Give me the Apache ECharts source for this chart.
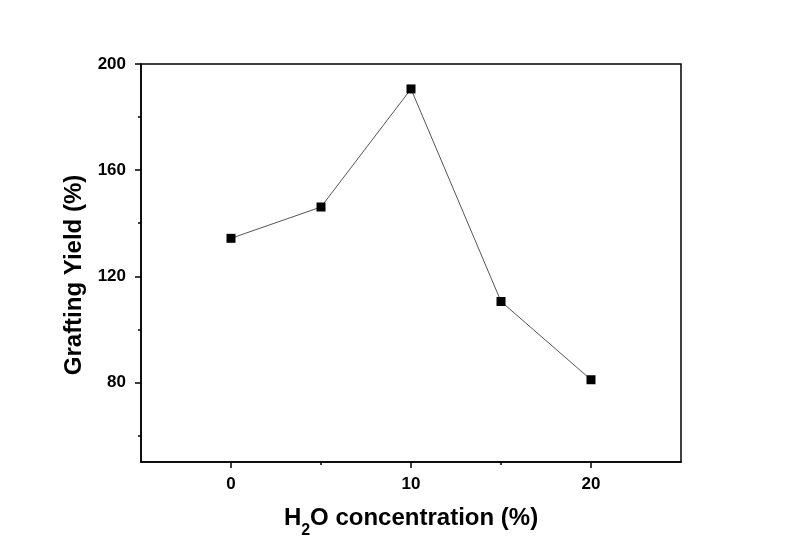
<!DOCTYPE html>
<html>
<head>
<meta charset="utf-8">
<script src="https://cdn.jsdelivr.net/npm/echarts@6/dist/echarts.min.js"></script>
<style>
html,body{margin:0;padding:0;background:#fff;}
#chart{width:790px;height:554px;}
</style>
</head>
<body>
<div id="chart"></div>
<script>
// Data
var h2oConcentration = [0, 5, 10, 15, 20];
var graftingYield = [134.3, 146.1, 190.6, 110.5, 81.0];

// Axis ticks / labels
var xMajorTicks = [0, 10, 20];
var xMinorTicks = [5, 15];
var yMajorTicks = [80, 120, 160, 200];
var yMinorTicks = [60, 100, 140, 180];

var FONT = 'Liberation Sans, Arial, sans-serif';

var chart = echarts.init(document.getElementById('chart'), null, {renderer: 'canvas'});

var seriesData = h2oConcentration.map(function (x, i) { return [x, graftingYield[i]]; });

var option = {
  backgroundColor: '#fff',
  animation: false,
  grid: {
    left: 141, top: 64, right: 109, bottom: 92,
    show: true, borderColor: '#000', borderWidth: 1.5, backgroundColor: 'transparent'
  },
  xAxis: [{
    type: 'value', min: -5, max: 25, position: 'bottom',
    axisLine: {show: true, onZero: false, lineStyle: {color: '#000', width: 1.5}},
    axisTick: {show: true, inside: false, length: 6, customValues: xMajorTicks, lineStyle: {color: '#000', width: 1.5}},
    axisLabel: {show: true, customValues: xMajorTicks, margin: 14, color: '#000', fontFamily: FONT, fontWeight: 'bold', fontSize: 17},
    splitLine: {show: false},
    name: '{a|H}{s|2}{a|O concentration (%)}',
    nameLocation: 'middle',
    nameGap: 44,
    nameTextStyle: {
      color: '#000', fontFamily: FONT, fontWeight: 'bold', fontSize: 24,
      rich: {
        a: {fontFamily: FONT, fontWeight: 'bold', fontSize: 24, color: '#000', lineHeight: 28, verticalAlign: 'top'},
        s: {fontFamily: FONT, fontWeight: 'bold', fontSize: 16, color: '#000', lineHeight: 28, verticalAlign: 'top', padding: [17, 0, 0, 0]}
      }
    }
  }, {
    type: 'value', min: -5, max: 25, position: 'bottom', offset: 0,
    axisLine: {show: false, onZero: false},
    axisTick: {show: true, inside: false, length: 3, customValues: xMinorTicks, lineStyle: {color: '#000', width: 1.5}},
    axisLabel: {show: false},
    splitLine: {show: false}
  }],
  yAxis: [{
    type: 'value', min: 50, max: 200, position: 'left',
    axisLine: {show: true, onZero: false, lineStyle: {color: '#000', width: 1.5}},
    axisTick: {show: true, inside: false, length: 6, customValues: yMajorTicks, lineStyle: {color: '#000', width: 1.5}},
    axisLabel: {show: true, customValues: yMajorTicks, margin: 15, color: '#000', fontFamily: FONT, fontWeight: 'bold', fontSize: 17},
    splitLine: {show: false},
    name: 'Grafting Yield (%)',
    nameLocation: 'middle',
    nameGap: 49,
    nameTextStyle: {color: '#000', fontFamily: FONT, fontWeight: 'bold', fontSize: 24, padding: [0, 24, 0, 0]}
  }, {
    type: 'value', min: 50, max: 200, position: 'left', offset: 0,
    axisLine: {show: false, onZero: false},
    axisTick: {show: true, inside: false, length: 3, customValues: yMinorTicks, lineStyle: {color: '#000', width: 1.5}},
    axisLabel: {show: false},
    splitLine: {show: false}
  }],
  series: [{
    type: 'line',
    xAxisIndex: 0, yAxisIndex: 0,
    data: seriesData,
    symbol: 'rect', symbolSize: 9,
    itemStyle: {color: '#000'},
    lineStyle: {color: '#555', width: 1},
    z: 5
  }]
};
chart.setOption(option);
</script>
</body>
</html>
